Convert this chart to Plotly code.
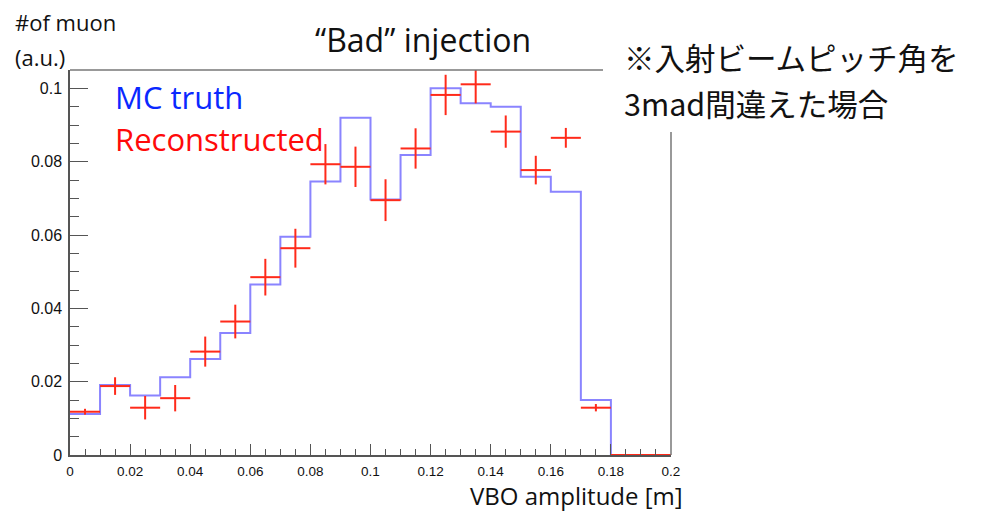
import plotly.graph_objects as go

# ---- data ----
bin_edges = [round(i * 0.01, 2) for i in range(21)]
mc_truth = [0.0112, 0.0191, 0.0162, 0.0212, 0.0262, 0.0333, 0.0465, 0.0595, 0.0746, 0.0920,
            0.0697, 0.0818, 0.1000, 0.0959, 0.0950, 0.0759, 0.0718, 0.0150, 0.0, 0.0]
reco_vals = [0.0118, 0.0188, 0.0129, 0.0155, 0.0282, 0.0364, 0.0485, 0.0564, 0.0793, 0.0786,
             0.0695, 0.0836, 0.0982, 0.1011, 0.0882, 0.0777, 0.0865, 0.0129, 0.0, 0.0]
reco_errs = [0.0008, 0.0024, 0.0032, 0.0036, 0.0041, 0.0046, 0.0050, 0.0053, 0.0055, 0.0055,
             0.0057, 0.0055, 0.0055, 0.0052, 0.0044, 0.0039, 0.0027, 0.0010, 0.0, 0.0]
x_ticks = [0, 0.02, 0.04, 0.06, 0.08, 0.1, 0.12, 0.14, 0.16, 0.18, 0.2]
y_ticks = [0, 0.02, 0.04, 0.06, 0.08, 0.1]

centers = [(bin_edges[i] + bin_edges[i + 1]) / 2 for i in range(len(mc_truth))]
half_w = [(bin_edges[i + 1] - bin_edges[i]) / 2 for i in range(len(mc_truth))]

BLUE = "#8a84ff"
RED = "#ff2a1a"
AXC = "#555555"

W, H = 986, 511
ML, MR, MT, MB = 70, 315, 70, 56
PW, PH = W - ML - MR, H - MT - MB


def px(x):
    return (x - ML) / PW


def py(y):
    return (H - MB - y) / PH


fig = go.Figure()
fig.add_trace(go.Scatter(
    x=bin_edges, y=mc_truth + [mc_truth[-1]], mode="lines", line_shape="hv",
    line=dict(color=BLUE, width=2), hoverinfo="skip", showlegend=False))
fig.add_trace(go.Scatter(
    x=centers, y=reco_vals, mode="markers",
    marker=dict(size=1, color=RED),
    error_x=dict(type="data", array=half_w, color=RED, thickness=2, width=0),
    error_y=dict(type="data", array=reco_errs, color=RED, thickness=2, width=0),
    showlegend=False))

fig.update_layout(
    width=W, height=H,
    margin=dict(l=ML, r=MR, t=MT, b=MB),
    paper_bgcolor="white", plot_bgcolor="white",
    font=dict(family="Liberation Sans, Arial, sans-serif", color="#111"),
    xaxis=dict(range=[0, 0.2], tickvals=x_ticks, ticktext=[f"{v:g}" for v in x_ticks],
               ticks="inside", ticklen=11, tickwidth=1.3, tickcolor=AXC,
               showline=True, linecolor=AXC, linewidth=1.5, showgrid=False, zeroline=False,
               tickfont=dict(size=13.5), ticklabelstandoff=3,
               minor=dict(dtick=0.005, tick0=0, ticks="inside", ticklen=6, tickwidth=1, tickcolor=AXC)),
    yaxis=dict(range=[0, 0.105], tickvals=y_ticks, ticktext=[f"{v:g}" for v in y_ticks],
               ticks="inside", ticklen=18, tickwidth=1.3, tickcolor=AXC,
               showline=True, linecolor=AXC, linewidth=1.5, showgrid=False, zeroline=False,
               tickfont=dict(size=16), ticklabelstandoff=3,
               minor=dict(dtick=0.005, tick0=0, ticks="inside", ticklen=9, tickwidth=1, tickcolor=AXC)),
)

# frame: top and right edges (partly hidden by the note box in the original)
fig.add_shape(type="line", xref="paper", yref="paper", x0=0, x1=px(603), y0=1, y1=1,
              line=dict(color="#777", width=1.5))
fig.add_shape(type="line", xref="paper", yref="paper", x0=1, x1=1, y0=0, y1=py(132),
              line=dict(color="#777", width=1.5))

TXT = "Open Sans, Noto Sans, sans-serif"
CJK = "Noto Sans CJK JP"
ann = [
    dict(text="#of muon", x=13, y=22, size=22, color="#111", fam=TXT, anchor="left"),
    dict(text="(a.u.)", x=13, y=57, size=22, color="#111", fam=TXT, anchor="left"),
    dict(text="MC truth", x=113, y=97, size=31, color="#0a28ff", fam=TXT, anchor="left"),
    dict(text="Reconstructed", x=113, y=139, size=31, color="#ff0a0a", fam=TXT, anchor="left"),
    dict(text="“Bad” injection", x=423, y=40, size=32, color="#111", fam=TXT, anchor="center"),
    dict(text="VBO amplitude [m]", x=576, y=496, size=24, color="#111", fam=TXT, anchor="center"),
    dict(text="※入射ビームピッチ角を", x=622, y=57.5, size=30.5, color="#111", fam=CJK, anchor="left"),
    dict(text="3mad間違えた場合", x=622, y=102.5, size=30.5, color="#111", fam=CJK, anchor="left"),
]
for a in ann:
    fig.add_annotation(text=a["text"], xref="paper", yref="paper",
                       x=px(a["x"]), y=py(a["y"]), xanchor=a["anchor"], yanchor="middle",
                       align="left", showarrow=False,
                       font=dict(family=a["fam"], size=a["size"], color=a["color"]))

fig.write_html("out.html")
